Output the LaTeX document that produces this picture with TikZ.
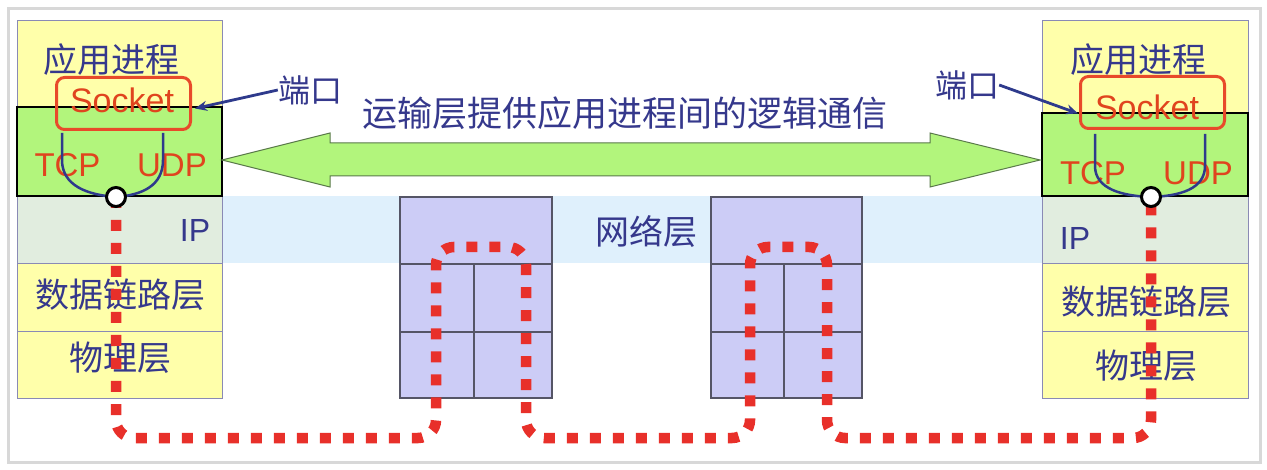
\documentclass[tikz,border=0pt]{standalone}
\usepackage{fontspec}
\setmainfont{Liberation Sans}
\newfontfamily\cjk{Noto Sans CJK SC}
\usetikzlibrary{arrows.meta,calc}
\definecolor{navy}{HTML}{35388C}
\definecolor{redtxt}{HTML}{E0441E}
\definecolor{sockred}{HTML}{E84A2A}
\definecolor{layyellow}{HTML}{FFFFAA}
\definecolor{laygreen}{HTML}{B2F57C}
\definecolor{layip}{HTML}{E1EDDF}
\definecolor{bandblue}{HTML}{DFF0FC}
\definecolor{routerfill}{HTML}{CCCCF6}
\definecolor{dotred}{HTML}{E8302A}
\definecolor{laybord}{HTML}{8A8AB5}
\definecolor{framegray}{HTML}{D8D8D8}
\definecolor{arrowbord}{HTML}{5A7A4A}
\definecolor{blueline}{HTML}{2E3A8C}
\definecolor{routerbord}{HTML}{555566}
\tikzset{
  layer/.style={rectangle, anchor=north west, inner sep=0pt, outer sep=0pt, draw=laybord, line width=0.8pt},
  translayer/.style={layer, draw=black, line width=2pt, fill=laygreen},
  cjktxt/.style={inner sep=0pt, text=navy, font=\cjk\fontsize{34}{40}\selectfont},
  lattxt/.style={inner sep=0pt, anchor=base, text=navy, font=\fontsize{32}{38}\selectfont},
  redlat/.style={inner sep=0pt, anchor=base, text=redtxt, font=\fontsize{33}{38}\selectfont},
  sockbox/.style={rectangle, rounded corners=8pt, draw=sockred, line width=3pt, inner sep=0pt, anchor=north west},
  joint/.style={circle, draw=black, fill=white, line width=3pt, minimum size=19pt, inner sep=0pt},
  routerbox/.style={rectangle, anchor=north west, inner sep=0pt, outer sep=0pt, draw=routerbord, line width=1.5pt, fill=routerfill},
  dotpath/.style={draw=dotred, line width=10.5pt, dash pattern=on 11pt off 12pt, rounded corners=18pt},
  bluecurve/.style={draw=blueline, line width=2.5pt},
  portarrow/.style={draw=blueline, line width=2.8pt, -{Stealth[length=12pt,width=10pt]}},
}
\begin{document}
\begin{tikzpicture}[x=1pt,y=-1pt]
\useasboundingbox (0,0) rectangle (1267,470);
\fill[white] (0,0) rectangle (1267,470);
\draw[framegray, line width=3pt] (8.5,8.5) rectangle (1260.5,462);

% network band
\fill[bandblue] (222,196) rectangle (1042,263);

% left stack
\node[layer, fill=layyellow, minimum width=205pt, minimum height=87pt] (lapp) at (17,20) {};
\node[layer, fill=layip, minimum width=205pt, minimum height=67pt] (lip) at (17,196) {};
\node[layer, fill=layyellow, minimum width=205pt, minimum height=68pt] (ldl) at (17,263) {};
\node[layer, fill=layyellow, minimum width=205pt, minimum height=67pt] (lph) at (17,331) {};
\node[translayer, minimum width=205pt, minimum height=89pt] (ltr) at (17,107) {};

% right stack
\node[layer, fill=layyellow, minimum width=206pt, minimum height=93pt] (rapp) at (1042,20) {};
\node[layer, fill=layip, minimum width=206pt, minimum height=67pt] (rip) at (1042,196) {};
\node[layer, fill=layyellow, minimum width=206pt, minimum height=68pt] (rdl) at (1042,263) {};
\node[layer, fill=layyellow, minimum width=206pt, minimum height=67pt] (rph) at (1042,331) {};
\node[translayer, minimum width=206pt, minimum height=83pt] (rtr) at (1042,113) {};

% routers
\node[routerbox, minimum width=152pt, minimum height=201pt] (r1) at (400,197) {};
\draw[routerbord, line width=1.2pt] (400,264) -- (552,264) (400,332) -- (552,332) (474,264) -- (474,398);
\node[routerbox, minimum width=151pt, minimum height=201pt] (r2) at (711,197) {};
\draw[routerbord, line width=1.2pt] (711,264) -- (862,264) (711,332) -- (862,332) (784,264) -- (784,398);

% big double arrow
\draw[fill=laygreen, draw=arrowbord, line width=1pt]
  (222,160) -- (330,133) -- (330,143) -- (930,143) -- (930,133) -- (1040,160)
  -- (930,187) -- (930,176) -- (330,176) -- (330,187) -- cycle;

% texts
\node[cjktxt] (lappt) at (111,60) {应用进程};
\node[cjktxt] (rappt) at (1138,60) {应用进程};
\node[cjktxt] (ldlt) at (120,295) {数据链路层};
\node[cjktxt] (rdlt) at (1146,302) {数据链路层};
\node[cjktxt] (lpht) at (120,358) {物理层};
\node[cjktxt] (rpht) at (1146,366) {物理层};
\node[cjktxt] (net) at (646,232) {网络层};
\node[cjktxt, font=\cjk\fontsize{35}{40}\selectfont] (title) at (625,113) {运输层提供应用进程间的逻辑通信};
\node[cjktxt, font=\cjk\fontsize{32}{38}\selectfont] (lport) at (310,90) {端口};
\node[cjktxt, font=\cjk\fontsize{32}{38}\selectfont] (rport) at (967,85) {端口};
\node[lattxt] (lipt) at (195,242) {IP};
\node[lattxt] (ript) at (1075,250) {IP};
\node[redlat] (ltcp) at (67.5,177) {TCP};
\node[redlat] (ludp) at (172,177) {UDP};
\node[redlat] (rtcp) at (1093,185) {TCP};
\node[redlat] (rudp) at (1198,185) {UDP};
\node[redlat, font=\fontsize{34}{40}\selectfont] (lsockt) at (122,113) {Socket};
\node[redlat, font=\fontsize{34}{40}\selectfont] (rsockt) at (1147,120) {Socket};

% socket boxes
\node[sockbox, minimum width=134pt, minimum height=52pt] (lsock) at (55,76) {};
\node[sockbox, minimum width=144pt, minimum height=52pt] (rsock) at (1079,75) {};

% joints
\coordinate (lcj) at (116,197);
\coordinate (rcj) at (1151,197);

% red dotted path
\draw[dotpath] (lcj) -- (116,438) -- (436,438) -- (436,247) -- (526,247) -- (526,438)
  -- (750,438) -- (750,247) -- (827,247) -- (827,438) -- (1151,438) -- (rcj);

% blue curves
\draw[bluecurve] (62,133) -- (62,160) .. controls (62,186) and (88,195) .. (lcj);
\draw[bluecurve] (163,133) -- (163,160) .. controls (163,186) and (142,195) .. (lcj);
\draw[bluecurve] (1095,134) -- (1095,166) .. controls (1095,189) and (1122,196) .. (rcj);
\draw[bluecurve] (1205,134) -- (1205,166) .. controls (1205,189) and (1180,196) .. (rcj);

\node[joint] (lc) at (lcj) {};
\node[joint] (rc) at (rcj) {};

% port arrows
\draw[portarrow] (lport.west) -- ($(lsock.east)+(3,5)$);
\draw[portarrow] (rport.east) -- ($(rsock.west)+(-1,11)$);
\end{tikzpicture}
\end{document}
